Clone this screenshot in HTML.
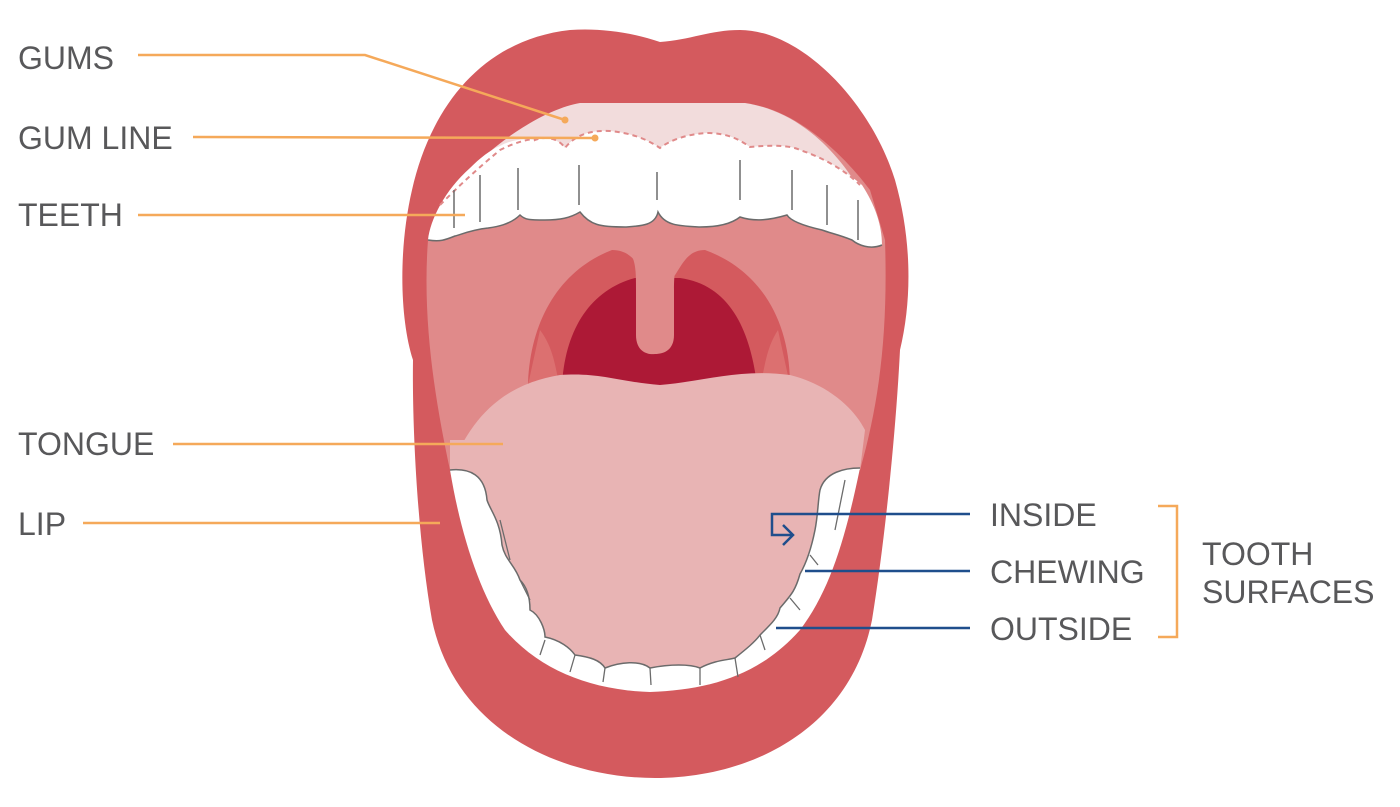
<!DOCTYPE html>
<html><head><meta charset="utf-8"><style>
html,body{margin:0;padding:0;background:#fff;}
svg{display:block;}
text{font-family:"Liberation Sans",sans-serif;font-size:32px;fill:#58585a;}
</style></head><body>
<svg width="1400" height="807" viewBox="0 0 1400 807" xmlns="http://www.w3.org/2000/svg">
<path d="M660,42 C630,32 600,28 570,30 C480,40 430,110 412,190 C398,250 400,320 413,360 C412,430 418,540 432,620 C455,730 560,778 655,778 C750,778 850,730 872,620 C885,540 896,430 900,350 C912,300 912,240 895,180 C870,100 800,30 740,30 C710,30 690,40 660,42 Z" fill="#d45a5e"/>
<path d="M428,240 C440,200 470,170 500,150 C540,120 560,103 600,103 L740,103 C790,105 840,150 870,190 L885,240 C888,330 880,400 860,470 L450,470 C435,400 422,320 428,240 Z" fill="#e08a8a"/>
<path d="M440,205 C480,150 540,110 580,103 L745,103 C790,110 830,140 860,190 L860,200 L440,215 Z" fill="#f2dcdc"/>
<path d="M528,385 C530,320 560,270 612,250 C640,250 640,280 660,290 C680,280 680,250 705,250 C760,270 790,320 790,385 Z" fill="#d45a5e"/>
<path d="M528,385 L540,330 C555,350 555,370 560,385 Z M790,385 L778,330 C765,350 765,370 760,385 Z" fill="#dc7070"/>
<path d="M562,385 C565,330 590,290 635,278 L680,278 C730,285 750,330 757,385 Z" fill="#ad1936"/>
<path d="M625,250 C636,255 636,270 636,290 L636,335 C636,352 648,355 655,354 C664,354 674,350 674,335 L674,290 C674,270 676,255 688,250 Z" fill="#e08a8a"/>
<!-- upper teeth -->
<path d="M470,168 C480,158 490,150 500,146 C510,140 525,138 535,140 C545,135 560,140 565,148 C575,135 590,130 610,131 C630,133 645,138 660,148 C670,140 690,133 710,133 C730,134 740,140 750,147 C770,145 790,145 800,150 C830,160 850,175 862,185 C875,205 882,225 882,245 C870,250 858,245 852,240 C840,235 830,233 822,230 C800,225 790,220 787,215 C770,220 755,222 740,217 C730,225 715,227 700,227 C680,226 665,226 658,212 C655,226 640,226 625,227 C600,227 590,225 580,212 C570,218 560,220 545,220 C530,220 525,220 520,215 C510,225 495,227 488,228 C470,230 460,235 455,236 C445,240 440,242 428,240 C430,220 445,190 470,168 Z" fill="#fff"/>
<path d="M428,240 C440,242 445,240 455,236 C460,235 470,230 488,228 C495,227 510,225 520,215 C525,220 530,220 545,220 C560,220 570,218 580,212 C590,225 600,227 625,227 C640,226 655,226 658,212 C665,226 680,226 700,227 C715,227 730,225 740,217 C755,222 770,220 787,215 C790,220 800,225 822,230 C830,233 840,235 852,240 C858,245 870,250 882,245" fill="none" stroke="#6b6b6b" stroke-width="1.5"/>
<path d="M440,205 C455,190 470,175 500,150 C520,140 535,138 535,140 C548,135 560,140 565,148 C575,135 590,130 610,131 C630,133 645,138 660,148 C670,140 690,133 710,133 C730,134 740,140 750,147 C770,145 790,145 800,150 C830,160 850,175 860,185" fill="none" stroke="#e08a8a" stroke-width="2" stroke-dasharray="5,4"/>
<path d="M454,190 V228 M480,175 V222 M518,168 V210 M579,165 V205 M657,172 V200 M740,160 V200 M792,170 V210 M827,185 V225 M858,200 V240" stroke="#6b6b6b" stroke-width="1.5"/>
<!-- tongue -->
<path d="M450,470 C470,420 500,385 560,375 C600,372 620,382 660,385 C700,382 740,368 790,375 C830,385 855,410 865,430 L860,470 L450,470 Z" fill="#e8b4b4"/>
<!-- lower teeth -->
<path d="M450,470 L860,468 C845,540 830,590 800,630 C760,675 710,690 650,692 C590,690 540,670 505,630 C478,590 460,530 450,470 Z" fill="#fff"/>
<path d="M450,470 C470,468 485,475 487,500 C490,510 500,520 502,545 C505,560 515,565 520,580 C530,590 530,605 530,610 C540,615 545,630 545,637 C560,640 570,648 575,655 C590,657 600,660 605,668 C620,662 640,660 650,668 C670,664 690,664 700,668 C715,660 728,660 735,658 C745,650 755,642 760,635 C770,625 778,618 780,608 C790,596 795,592 800,574 C808,560 812,545 815,530 C818,515 818,500 820,490 C825,472 845,468 860,468 L860,440 L450,440 Z" fill="#e8b4b4"/>
<path d="M450,470 C470,468 485,475 487,500 C490,510 500,520 502,545 C505,560 515,565 520,580 C530,590 530,605 530,610 C540,615 545,630 545,637 C560,640 570,648 575,655 C590,657 600,660 605,668 C620,662 640,660 650,668 C670,664 690,664 700,668 C715,660 728,660 735,658 C745,650 755,642 760,635 C770,625 778,618 780,608 C790,596 795,592 800,574 C808,560 812,545 815,530 C818,515 818,500 820,490 C825,472 845,468 860,468" fill="none" stroke="#6b6b6b" stroke-width="1.5"/>
<path d="M500,520 L510,560 M520,580 L530,600 M545,640 L540,655 M575,655 L570,672 M605,668 L603,682 M650,668 L651,685 M700,668 L700,685 M735,658 L738,677 M760,635 L765,650 M790,598 L800,610 M810,555 L818,565 M845,480 L835,530" stroke="#6b6b6b" stroke-width="1.3" fill="none"/>
<g stroke="#f5a95a" stroke-width="2.5" fill="none">
<path d="M138,55 L365,55 L565,120"/>
<path d="M193,137 L595,138"/>
<path d="M138,215 L465,215"/>
<path d="M173,444 L503,444"/>
<path d="M83,523 L440,523"/>
</g>
<circle cx="565" cy="120" r="3.5" fill="#f5a95a"/>
<circle cx="595" cy="138" r="3.5" fill="#f5a95a"/>
<g stroke="#1f4e8c" stroke-width="2.5" fill="none">
<path d="M970,514 L772,514 L772,535 L793,535"/>
<path d="M783,525 L793,535 L783,545"/>
<path d="M805,571 L970,571"/>
<path d="M776,628 L970,628"/>
</g>
<path d="M1158,506 L1177,506 L1177,637 L1158,637" stroke="#f5a95a" stroke-width="2.5" fill="none"/>
<text x="18" y="69">GUMS</text>
<text x="18" y="149">GUM LINE</text>
<text x="18" y="226">TEETH</text>
<text x="18" y="455">TONGUE</text>
<text x="18" y="535">LIP</text>
<text x="990" y="526">INSIDE</text>
<text x="990" y="583">CHEWING</text>
<text x="990" y="640">OUTSIDE</text>
<text x="1202" y="565">TOOTH</text>
<text x="1202" y="603">SURFACES</text>
</svg>
</body></html>
